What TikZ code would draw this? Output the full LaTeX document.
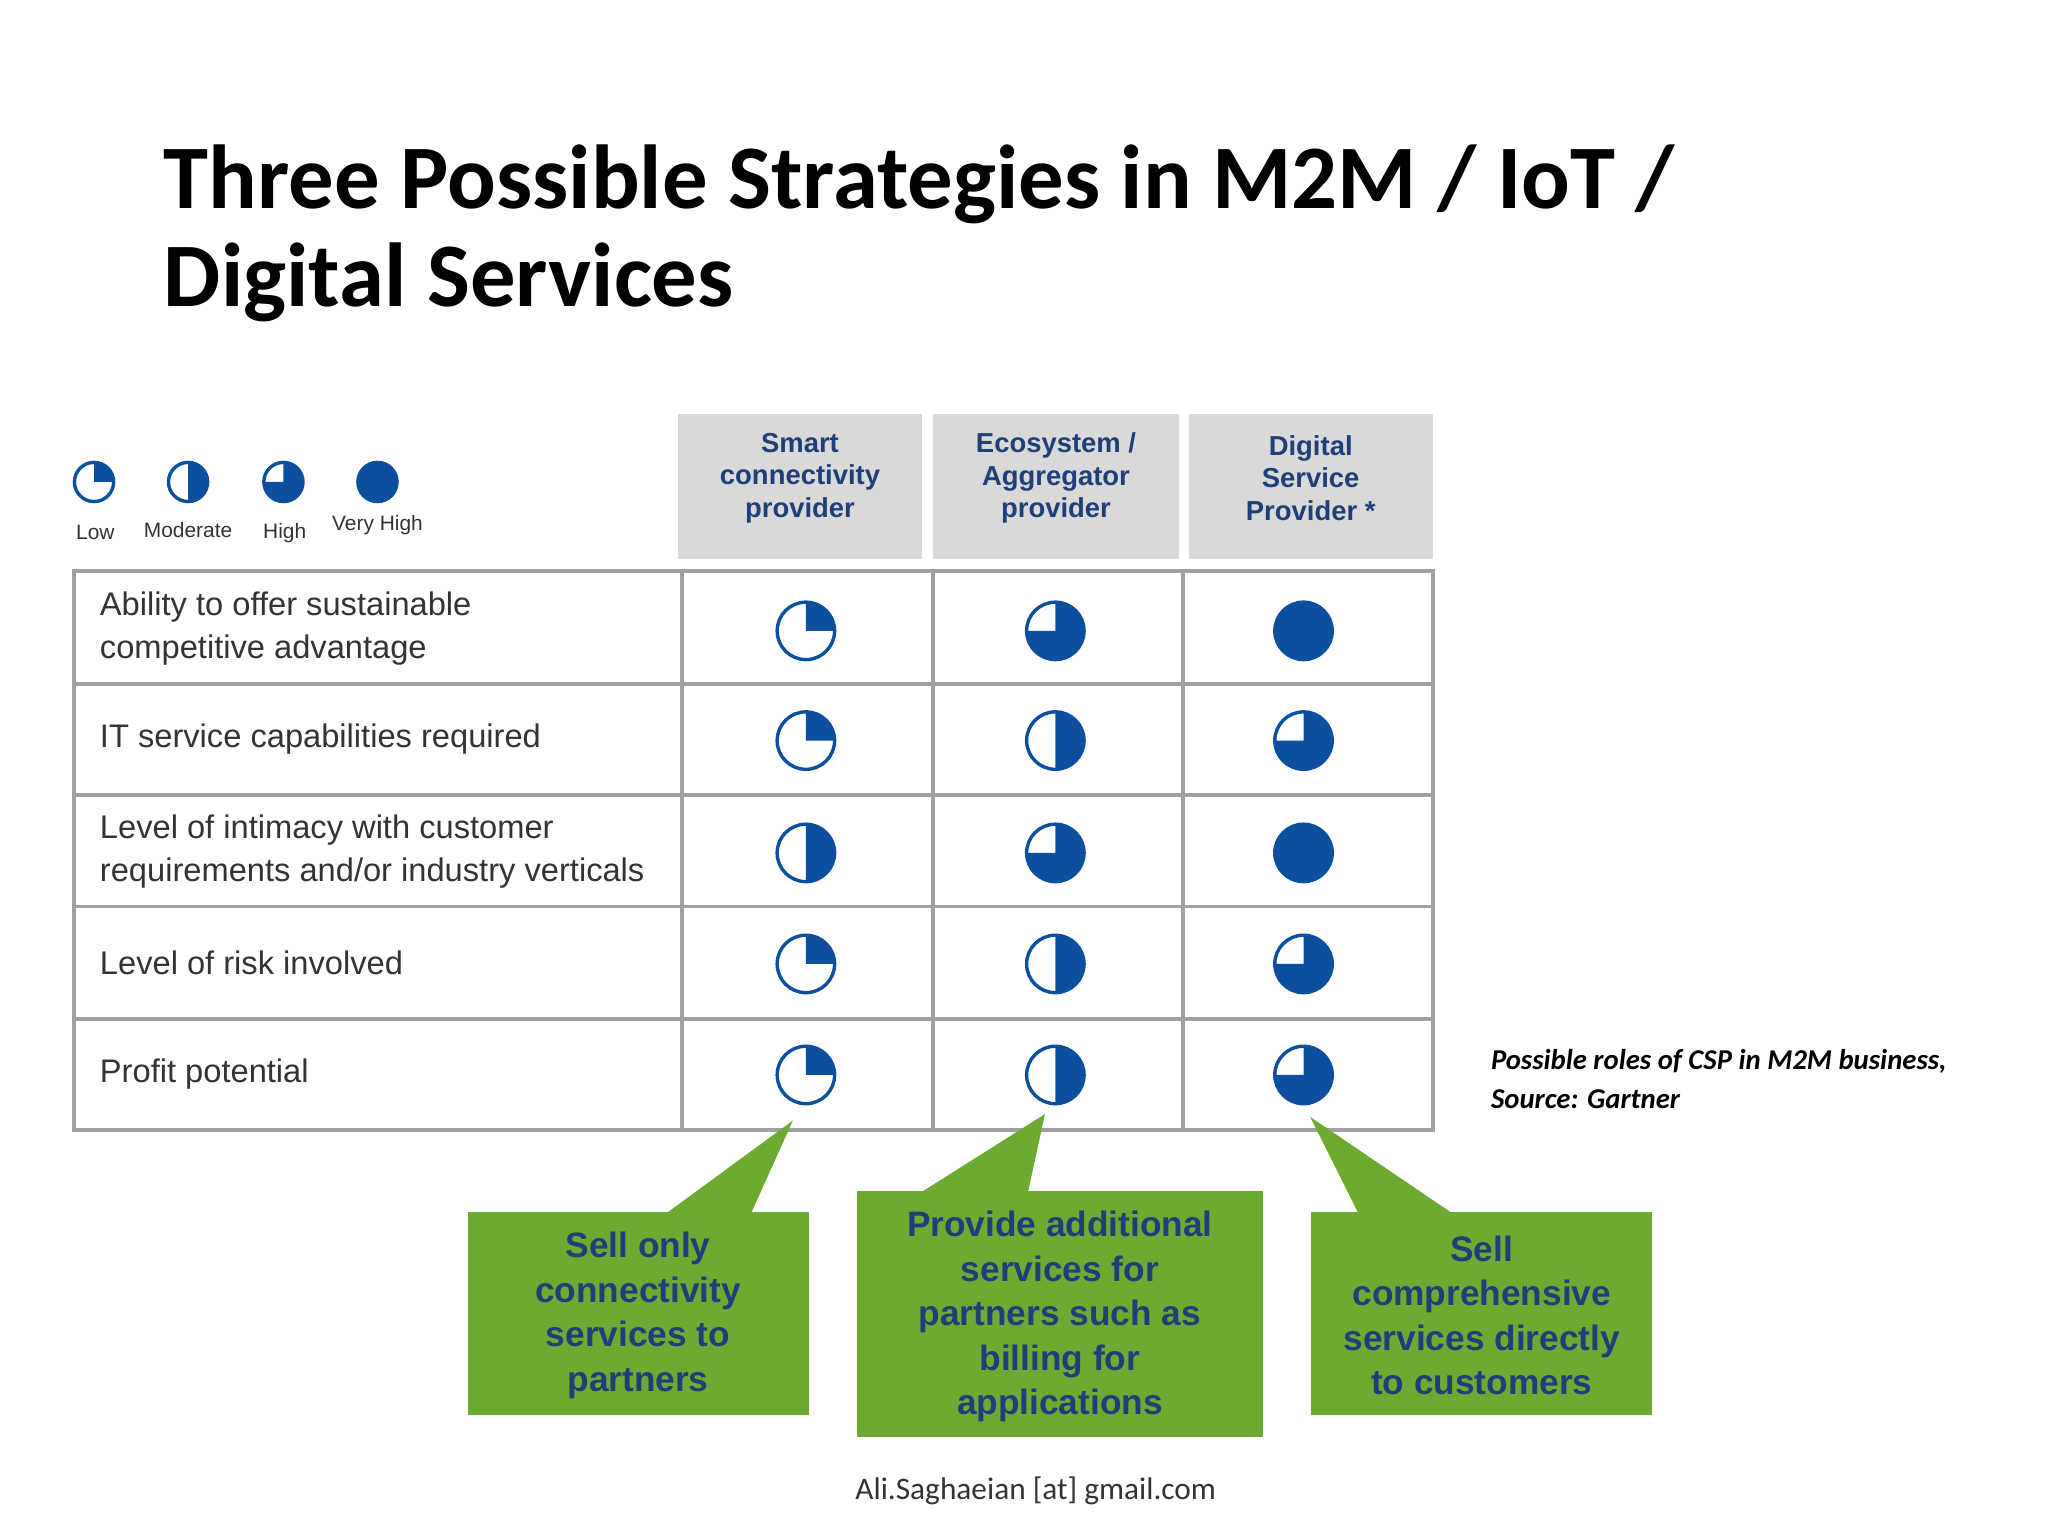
\documentclass[tikz,border=0pt]{standalone}
\usepackage{fontspec}
\setmainfont{Liberation Sans}
\newfontfamily\calfnt{Carlito}
\definecolor{pblue}{HTML}{0B4F9E}
\definecolor{hblue}{HTML}{1F3F7A}
\definecolor{gfill}{HTML}{6DAA31}
\definecolor{hgray}{HTML}{D9D9D9}
\definecolor{lgray}{HTML}{A0A0A0}
\definecolor{tgray}{HTML}{333333}
\newcommand{\mypie}[4]{% x y r level
 \begin{scope}[shift={(#1,#2)},x=1pt,y=1pt]
 \fill[white] (0,0) circle (#3);
 \ifcase#4\or
  \fill[pblue] (0,0) -- (90:#3) arc (90:0:#3) -- cycle;
 \or
  \fill[pblue] (0,0) -- (90:#3) arc (90:-90:#3) -- cycle;
 \or
  \fill[pblue] (0,0) -- (90:#3) arc (90:-180:#3) -- cycle;
 \or
  \fill[pblue] (0,0) circle (#3);
 \fi
 \draw[pblue,line width=2.6pt] (0,0) circle (#3);
 \end{scope}
}
\tikzset{
 hdr/.style={fill=hgray,minimum height=111pt,align=center,font=\fontsize{21}{25}\selectfont\bfseries,text=hblue,inner sep=0pt},
 rowt/.style={anchor=west,align=left,font=\fontsize{25}{33}\selectfont,text=tgray},
 callout/.style={fill=gfill,draw=none},
 ctext/.style={align=center,font=\fontsize{27}{34}\selectfont\bfseries,text=hblue},
 leg/.style={font=\fontsize{16}{18}\selectfont,text=tgray},
 grid/.style={draw=lgray,line width=3pt}
}
\begin{document}
\begin{tikzpicture}[x=1pt,y=-1pt]
\useasboundingbox (0,0) rectangle (1568,1176);
\node[anchor=base west,font=\calfnt\fontsize{69.5}{70}\selectfont\bfseries] (t1) at (122,160) {Three Possible Strategies in M2M / IoT /};
\node[anchor=base west,font=\calfnt\fontsize{69.5}{70}\selectfont\bfseries] (t2) at (122,235) {Digital Services};
% headers
\node[hdr,minimum width=187pt] (h1) at (612.5,372.5) {};
\node[hdr,minimum width=189pt] (h2) at (808.5,372.5) {};
\node[hdr,minimum width=187pt] (h3) at (1003.5,372.5) {};
\node[align=center,font=\fontsize{21}{25}\selectfont\bfseries,text=hblue] (h1t) at (612.5,366) {Smart\\connectivity\\provider};
\node[align=center,font=\fontsize{21}{25}\selectfont\bfseries,text=hblue] (h2t) at (808.5,366) {Ecosystem /\\Aggregator\\provider};
\node[align=center,font=\fontsize{21}{25}\selectfont\bfseries,text=hblue] (h3t) at (1003.5,366) {Digital\\Service\\Provider *};
% legend
\mypie{72}{369}{15}{1}\mypie{144}{369}{15}{2}\mypie{217}{369}{15}{3}\mypie{289}{369}{15}{4}
\node[leg] (l1) at (73,408) {Low};
\node[leg] (l2) at (144,406) {Moderate};
\node[leg] (l3) at (218,408) {High};
\node[leg] (l4) at (289,402) {Very High};
% table
\draw[grid] (57,437) rectangle (1097,865);
\foreach \y in {524,609,694,780} \draw[grid] (57,\y) -- (1097,\y);
\foreach \x in {522,714,906} \draw[grid] (\x,437) -- (\x,865);
\node[rowt] (r1) at (73,481) {Ability to offer sustainable\\competitive advantage};
\node[rowt] (r2) at (73,566) {IT service capabilities required};
\node[rowt] (r3) at (73,652) {Level of intimacy with customer\\requirements and/or industry verticals};
\node[rowt] (r4) at (73,737) {Level of risk involved};
\node[rowt] (r5) at (73,822) {Profit potential};
\foreach \y/\a/\b/\c in {483/1/3/4,567/1/2/3,653/2/3/4,738/1/2/3,823/1/2/3}{
 \mypie{617}{\y}{22}{\a}\mypie{808}{\y}{22}{\b}\mypie{998}{\y}{22}{\c}}
% callouts
\fill[callout] (358,928) rectangle (619,1083);
\fill[callout] (510,929) -- (607,858) -- (575,929) -- cycle;
\node[ctext] (c1) at (488.5,1007) {Sell only\\connectivity\\services to\\partners};
\fill[callout] (656,912) rectangle (967,1100);
\fill[callout] (705,913) -- (800,853) -- (787,913) -- cycle;
\node[ctext] (c2) at (811.5,1008) {Provide additional\\services for\\partners such as\\billing for\\applications};
\fill[callout] (1004,928) rectangle (1265,1083);
\fill[callout] (1040,929) -- (1003,855) -- (1112,929) -- cycle;
\node[ctext] (c3) at (1134.5,1007) {Sell\\comprehensive\\services directly\\to customers};
\node[anchor=base west,font=\calfnt\fontsize{22}{30}\selectfont\bfseries\itshape] (cap) at (1138,819) {Possible roles of CSP in M2M business,};
\node[anchor=base west,font=\calfnt\fontsize{22}{30}\selectfont\bfseries\itshape] (cap2) at (1138,849) {Source: Gartner};
\node[anchor=base,font=\calfnt\fontsize{24}{24}\selectfont,text=tgray] (ft) at (793,1148) {Ali.Saghaeian [at] gmail.com};
\end{tikzpicture}
\end{document}
